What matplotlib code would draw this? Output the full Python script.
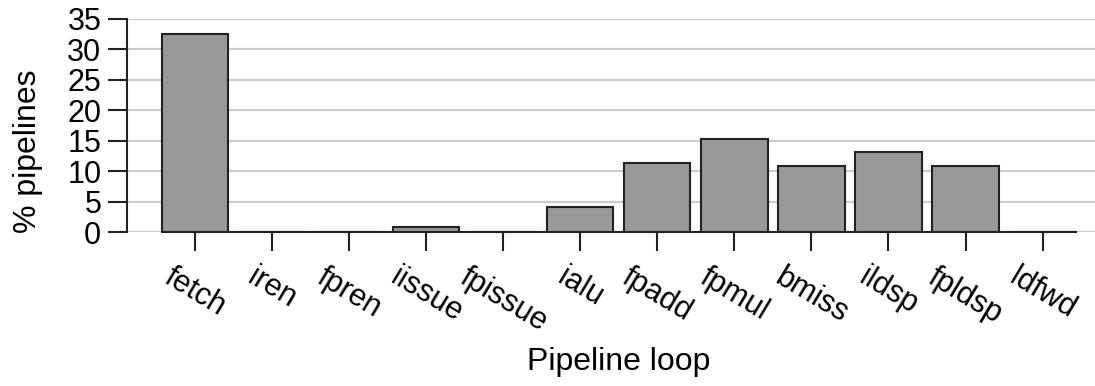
import numpy as np
import matplotlib
matplotlib.use("Agg")
import matplotlib.pyplot as plt

# pipeline loops and the share of pipelines limited by each one
loops = ["fetch", "iren", "fpren", "iissue", "fpissue", "ialu",
         "fpadd", "fpmul", "bmiss", "ildsp", "fpldsp", "ldfwd"]
pct = [32.5, 0.0, 0.0, 0.9, 0.0, 4.2, 11.3, 15.3, 10.9, 13.2, 10.9, 0.0]
yticks = [0, 5, 10, 15, 20, 25, 30, 35]

plt.rcParams["font.family"] = ["Liberation Sans", "DejaVu Sans"]

fig = plt.figure(figsize=(10.95, 3.86), dpi=100)
ax = fig.add_axes([0.116, 0.398, 0.884, 0.553])

x = np.arange(len(loops))
bw = 0.86
ax.bar(x, pct, width=bw, color="#999999", edgecolor="#222222",
       linewidth=1.5, zorder=3)

ax.set_xlim(-0.882, 11.68)
ax.set_ylim(0, 35)
ax.set_yticks(yticks)
ax.set_xticks(x)
ax.set_xticklabels(loops, rotation=-31, ha="center")
ax.yaxis.grid(True, color="#cccccc", linewidth=1.6, zorder=0)
ax.set_axisbelow(True)

for side in ["top", "right"]:
    ax.spines[side].set_visible(False)
ax.spines["left"].set_bounds(0, 35)
ax.spines["bottom"].set_bounds(-bw / 2, len(loops) - 1 + bw / 2)
for side in ["left", "bottom"]:
    ax.spines[side].set_color("#222222")
    ax.spines[side].set_linewidth(1.5)
    ax.spines[side].set_zorder(4)

ax.tick_params(axis="both", direction="out", length=13.5, width=1.5,
               color="#222222", labelsize=22, pad=5)
ax.tick_params(axis="x", labelsize=22, pad=8)

ax.set_ylabel("% pipelines", fontsize=23, va="center")
ax.yaxis.set_label_coords(-0.102, 0.378)
ax.set_xlabel("Pipeline loop", fontsize=23, va="center")
ax.xaxis.set_label_coords(0.508, -0.605)

fig.savefig("out.png", dpi=100)
